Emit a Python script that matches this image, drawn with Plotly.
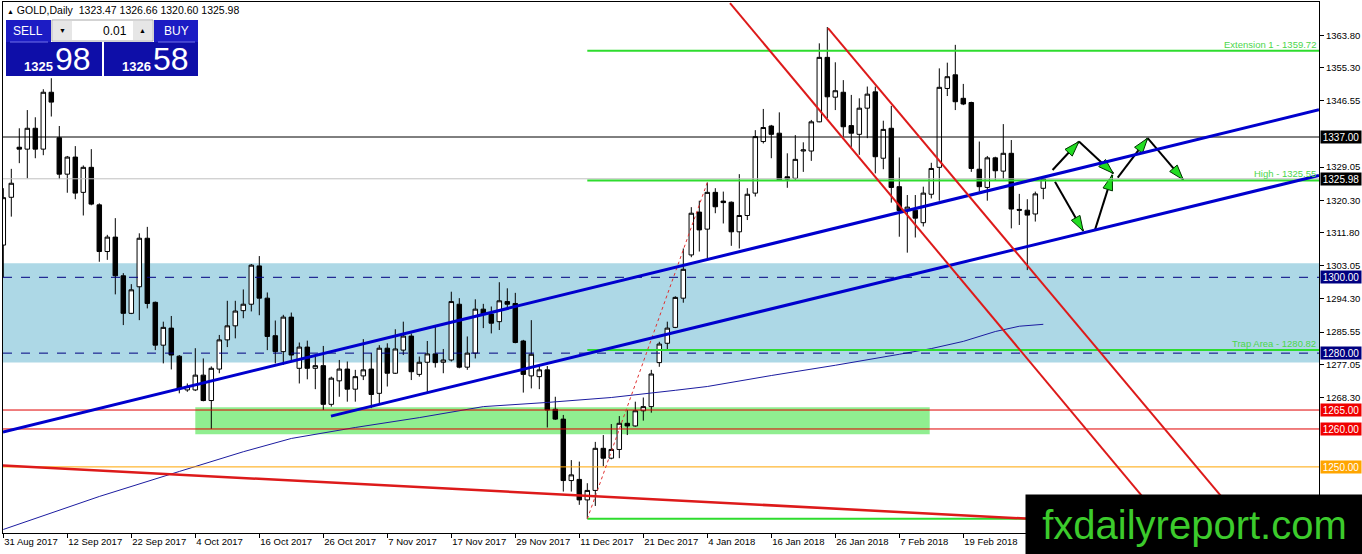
import math
import plotly.graph_objects as go

# ---------------- data ----------------
opens = [1308.5, 1321.1, 1334.3, 1333.8, 1339.3, 1333.8, 1348.8, 1336.8, 1327.2, 1331.7,
         1322.4, 1329.0, 1319.1, 1306.8, 1310.6, 1300.4, 1290.5, 1297.5, 1310.3, 1293.4,
         1282.1, 1286.6, 1279.2, 1270.3, 1270.3, 1274.2, 1267.5, 1275.8, 1283.5, 1287.2,
         1291.2, 1292.9, 1303.0, 1294.5, 1284.6, 1280.4, 1289.5, 1276.0, 1281.6, 1276.0,
         1276.7, 1266.5, 1272.7, 1275.8, 1270.5, 1274.0, 1275.8, 1269.4, 1281.3, 1274.7,
         1280.8, 1284.5, 1274.4, 1277.6, 1279.8, 1277.6, 1278.2, 1292.9, 1276.3, 1280.0,
         1291.6, 1290.3, 1288.3, 1293.6, 1293.1, 1283.2, 1274.0, 1273.8, 1275.6, 1265.2,
         1262.6, 1246.4, 1246.7, 1241.3, 1243.8, 1254.9, 1252.3, 1254.6, 1261.5, 1260.8,
         1264.8, 1265.9, 1277.5, 1282.6, 1286.8, 1294.5, 1305.9, 1317.2, 1312.7, 1322.4,
         1320.1, 1319.8, 1312.0, 1316.3, 1322.2, 1335.8, 1339.9, 1338.0, 1326.5, 1326.1,
         1333.3, 1333.3, 1341.0, 1358.0, 1347.5, 1348.8, 1340.0, 1337.7, 1344.6, 1348.9,
         1331.4, 1339.3, 1323.9, 1317.6, 1317.7, 1314.4, 1321.9, 1329.0, 1349.8, 1353.4,
         1347.2, 1346.1, 1328.5, 1323.7, 1331.5, 1328.0, 1332.7, 1317.9, 1317.7, 1316.7,
         1323.47]
highs = [1323.5, 1328.6, 1339.3, 1344.1, 1342.2, 1349.6, 1352.5, 1339.9, 1332.0, 1334.6,
         1329.5, 1333.8, 1319.5, 1311.2, 1315.6, 1301.1, 1298.2, 1311.6, 1313.3, 1293.6,
         1288.3, 1289.8, 1279.5, 1272.0, 1281.3, 1278.6, 1276.5, 1284.8, 1293.8, 1293.8,
         1296.8, 1303.5, 1305.6, 1296.0, 1288.6, 1290.1, 1290.7, 1282.8, 1283.3, 1279.1,
         1281.9, 1273.8, 1278.2, 1277.8, 1275.6, 1283.7, 1280.0, 1282.1, 1282.6, 1286.3,
         1288.3, 1285.2, 1279.1, 1283.2, 1287.4, 1281.1, 1296.2, 1294.5, 1284.4, 1294.2,
         1293.0, 1292.3, 1298.7, 1297.1, 1295.9, 1283.5, 1288.7, 1276.9, 1276.6, 1268.5,
         1263.7, 1251.8, 1251.4, 1245.7, 1256.6, 1258.4, 1261.3, 1263.4, 1265.0, 1267.2,
         1268.3, 1275.6, 1283.0, 1288.3, 1295.0, 1307.6, 1318.5, 1320.2, 1325.0, 1323.5,
         1322.6, 1320.0, 1327.2, 1323.5, 1338.8, 1344.4, 1340.2, 1343.5, 1332.7, 1337.5,
         1335.6, 1341.5, 1361.7, 1366.0, 1356.7, 1352.0, 1348.1, 1347.2, 1350.3, 1350.3,
         1341.3, 1345.2, 1331.6, 1321.7, 1321.7, 1323.9, 1330.2, 1355.1, 1356.6, 1361.3,
         1351.0, 1346.3, 1335.8, 1332.0, 1331.8, 1340.4, 1336.2, 1322.0, 1320.6, 1322.6,
         1326.66]
lows = [1300.0, 1316.0, 1330.1, 1326.1, 1331.4, 1332.2, 1342.4, 1325.9, 1322.3, 1320.6,
        1316.3, 1319.0, 1304.1, 1304.6, 1295.5, 1287.4, 1290.3, 1288.7, 1291.8, 1280.8,
        1277.3, 1275.7, 1269.4, 1269.8, 1270.0, 1267.3, 1260.0, 1274.7, 1281.6, 1283.9,
        1289.2, 1291.0, 1290.0, 1280.8, 1277.3, 1276.9, 1278.2, 1272.0, 1273.1, 1270.5,
        1265.0, 1265.9, 1268.5, 1267.2, 1267.2, 1272.9, 1265.5, 1266.8, 1271.2, 1274.5,
        1279.5, 1272.9, 1273.8, 1269.4, 1276.2, 1274.7, 1277.8, 1276.0, 1275.6, 1278.6,
        1286.6, 1285.2, 1286.1, 1291.6, 1282.6, 1269.6, 1270.7, 1270.5, 1260.4, 1262.4,
        1243.5, 1243.5, 1240.0, 1236.3, 1239.7, 1250.2, 1252.0, 1252.3, 1258.4, 1260.6,
        1262.2, 1264.3, 1276.4, 1281.0, 1286.6, 1293.3, 1305.3, 1306.8, 1305.0, 1316.9,
        1314.2, 1308.3, 1307.6, 1315.1, 1321.3, 1335.3, 1331.4, 1325.5, 1323.6, 1325.7,
        1327.8, 1330.7, 1340.9, 1341.9, 1344.1, 1337.1, 1334.4, 1332.3, 1336.7, 1327.4,
        1328.5, 1319.7, 1310.7, 1306.5, 1310.5, 1313.4, 1320.8, 1320.2, 1347.8, 1344.1,
        1345.4, 1327.8, 1322.6, 1320.2, 1325.7, 1325.9, 1312.9, 1313.8, 1301.9, 1314.7,
        1320.60]
closes = [1321.0, 1324.8, 1333.8, 1339.3, 1333.8, 1348.8, 1346.2, 1327.2, 1331.7, 1322.2,
          1329.0, 1319.3, 1306.8, 1310.6, 1300.4, 1290.5, 1296.7, 1310.3, 1293.1, 1282.1,
          1286.8, 1279.5, 1270.7, 1271.2, 1274.2, 1267.5, 1276.0, 1283.5, 1287.2, 1291.1,
          1292.9, 1303.2, 1294.5, 1284.4, 1280.4, 1289.5, 1279.5, 1281.6, 1276.0, 1276.7,
          1266.5, 1273.4, 1275.8, 1270.5, 1273.8, 1275.6, 1269.1, 1281.3, 1274.7, 1281.1,
          1284.5, 1275.1, 1277.6, 1279.8, 1277.5, 1278.2, 1293.6, 1276.3, 1280.0, 1291.6,
          1290.3, 1287.9, 1293.8, 1292.9, 1282.8, 1274.4, 1279.7, 1275.6, 1265.0, 1262.6,
          1246.4, 1247.9, 1241.3, 1243.8, 1254.9, 1252.3, 1254.6, 1261.5, 1260.8, 1264.8,
          1265.9, 1274.5, 1282.4, 1286.6, 1294.7, 1302.1, 1316.9, 1312.5, 1322.4, 1318.6,
          1319.7, 1312.0, 1316.3, 1321.9, 1337.1, 1339.5, 1337.7, 1325.7, 1325.9, 1331.1,
          1333.6, 1341.0, 1358.0, 1347.6, 1349.2, 1339.7, 1338.0, 1344.6, 1348.3, 1331.8,
          1339.0, 1323.7, 1317.6, 1318.5, 1315.6, 1322.2, 1328.7, 1350.1, 1352.9, 1346.3,
          1345.7, 1328.7, 1323.9, 1331.5, 1328.1, 1332.7, 1318.0, 1317.7, 1316.4, 1322.0,
          1325.98]
bar_index = list(range(len(opens)))

date_tick_index = [0, 8, 16, 24, 32, 40, 48, 56, 64, 72, 80, 88, 96, 104, 112, 120]
date_tick_labels = ["31 Aug 2017", "12 Sep 2017", "22 Sep 2017", "4 Oct 2017", "16 Oct 2017",
                    "26 Oct 2017", "7 Nov 2017", "17 Nov 2017", "29 Nov 2017", "11 Dec 2017",
                    "21 Dec 2017", "4 Jan 2018", "16 Jan 2018", "26 Jan 2018", "7 Feb 2018",
                    "19 Feb 2018"]
price_ticks = [1363.80, 1355.30, 1346.55, 1329.05, 1320.30, 1311.80, 1303.05,
               1294.30, 1285.55, 1277.05, 1268.30]

# moving average (bar index, value)
ma_index = [0, 12, 22, 30, 36, 44, 52, 60, 68, 76, 84, 88, 96, 104, 112, 116, 120, 124, 127, 130]
ma_value = [1233.5, 1242.2, 1248.8, 1254.0, 1257.5, 1260.4, 1263.0, 1265.9, 1267.0, 1268.3,
            1270.2, 1271.2, 1274.1, 1276.8, 1279.7, 1281.2, 1283.1, 1285.7, 1287.1, 1287.6]

# fibonacci-style levels drawn from the December low
fib_start = 73
fib_levels = [1359.72, 1325.55, 1280.82, 1236.30]
fib_texts = ["Extension 1 - 1359.72", "High - 1325.55", "Trap Area - 1280.82", ""]
fib_swing = [(73, 1236.3), (88, 1325.0)]

# horizontal levels
level_black = 1337.00
level_bid = 1325.98
level_dashed = [1300.00, 1280.00]
level_red = [1265.00, 1260.00]
level_orange = 1250.00

blue_zone = (1277.5, 1303.7)
green_zone = (24.0, 115.8, 1258.6, 1265.7)

# trend lines (bar index, price)
upper_trend = [(-0.04, 1259.2), (164.46, 1344.2)]
lower_trend = [(40.96, 1263.4), (164.46, 1326.86)]
red_left = [(90.84, 1372.3), (142.71, 1241.4)]
red_right = [(103.09, 1365.7), (153.09, 1240.1)]
red_bottom = [(-0.04, 1250.35), (135.0, 1235.6)]

# projected path arrows (start -> end)
proj_arrows = [((131.16, 1328.3), (134.46, 1335.8)),
               ((134.46, 1335.8), (138.75, 1327.4)),
               ((139.30, 1326.3), (143.05, 1336.7)),
               ((143.05, 1336.7), (147.50, 1325.7)),
               ((131.46, 1325.2), (134.99, 1312.2)),
               ((136.46, 1312.5), (138.63, 1327.0))]

header_text = "GOLD,Daily  1323.47 1326.66 1320.60 1325.98"
sell_price = ("1325", "98")
buy_price = ("1326", "58")
lot_size = "0.01"

# ---------------- layout geometry ----------------
W, H = 1362, 554
ML, MR, MT, MB = 3, 43, 2, 21
PW, PH = W - ML - MR, H - MT - MB
XR = [-0.0375, 164.4625]
YR = [1232.57, 1372.60]
FONT = "Liberation Sans"


def px(x):
    return (x - ML) / PW


def py(y):
    return (H - MB - y) / PH


fig = go.Figure()

fig.add_trace(go.Candlestick(
    x=bar_index, open=opens, high=highs, low=lows, close=closes,
    increasing=dict(line=dict(color="black", width=1), fillcolor="white"),
    decreasing=dict(line=dict(color="black", width=1), fillcolor="black"),
    whiskerwidth=0, hoverinfo="skip", showlegend=False))

fig.add_trace(go.Scatter(x=ma_index, y=ma_value, mode="lines",
                         line=dict(color="#1C1CA0", width=1), hoverinfo="skip",
                         showlegend=False))

shapes = []
# zones (background)
shapes.append(dict(type="rect", xref="paper", yref="y", x0=0, x1=1,
                   y0=blue_zone[0], y1=blue_zone[1], fillcolor="#ADD8E6",
                   line=dict(width=0), layer="below"))
shapes.append(dict(type="rect", xref="x", yref="y", x0=green_zone[0], x1=green_zone[1],
                   y0=green_zone[2], y1=green_zone[3], fillcolor="#90EE90",
                   line=dict(width=0), layer="below"))


def hline(y, color, width=1, dash="solid", x0=None):
    if x0 is None:
        shapes.append(dict(type="line", xref="paper", yref="y", x0=0, x1=1, y0=y, y1=y,
                           line=dict(color=color, width=width, dash=dash), layer="above"))
    else:
        shapes.append(dict(type="line", xref="x", yref="y", x0=x0, x1=XR[1], y0=y, y1=y,
                           line=dict(color=color, width=width, dash=dash), layer="above"))


hline(level_bid, "#C0C0C0")
hline(level_black, "black")
for lv in level_dashed:
    hline(lv, "#000080", 1, "dash")
for lv in level_red:
    hline(lv, "#E00000")
hline(level_orange, "#FFA500")
for lv in fib_levels:
    hline(lv, "#2EDC2E", 2, "solid", x0=fib_start)


def seg(pts, color, width, dash="solid"):
    shapes.append(dict(type="line", xref="x", yref="y", x0=pts[0][0], y0=pts[0][1],
                       x1=pts[1][0], y1=pts[1][1],
                       line=dict(color=color, width=width, dash=dash), layer="above"))


seg(fib_swing, "#E03030", 1, "dot")
seg(upper_trend, "#0000CD", 3)
seg(lower_trend, "#0000CD", 3)
seg(red_left, "#DD1A1A", 2)
seg(red_right, "#DD1A1A", 2)
seg(red_bottom, "#DD1A1A", 2.5)

# projection arrows
sx = PW / (XR[1] - XR[0])
sy = PH / (YR[1] - YR[0])
for (a, b) in proj_arrows:
    fig.add_trace(go.Scatter(x=[a[0], b[0]], y=[a[1], b[1]], mode="lines",
                             line=dict(color="black", width=2), hoverinfo="skip",
                             showlegend=False))
for (a, b) in proj_arrows:
    dx = (b[0] - a[0]) * sx
    dy = -(b[1] - a[1]) * sy
    ang = math.degrees(math.atan2(dx, -dy))
    fig.add_trace(go.Scatter(x=[b[0]], y=[b[1]], mode="markers",
                             marker=dict(symbol="arrow", size=16, angle=ang, color="#22DD22",
                                         line=dict(color="#003300", width=1)),
                             hoverinfo="skip", showlegend=False))

annotations = []
# fib texts
for lv, txt in zip(fib_levels, fib_texts):
    if txt:
        annotations.append(dict(x=1, xref="paper", y=lv, yref="y", text=txt,
                                xanchor="right", yanchor="bottom", showarrow=False,
                                font=dict(family=FONT, size=9.5, color="#4CD64C"),
                                xshift=-1, yshift=-1))

# axis price boxes
boxes = [(level_black, "black", "white"), (level_bid, "black", "white"),
         (level_dashed[0], "#000080", "white"), (level_dashed[1], "#000080", "white"),
         (level_red[0], "#F00000", "white"), (level_red[1], "#F00000", "white"),
         (level_orange, "#FFA500", "white")]
for val, bg, fg in boxes:
    annotations.append(dict(x=px(1320), xref="paper", y=val, yref="y",
                            text="%.2f" % val, xanchor="left", yanchor="middle",
                            showarrow=False, bgcolor=bg, width=40, height=12,
                            borderpad=0, align="center",
                            font=dict(family=FONT, size=10, color=fg)))

# header text
annotations.append(dict(x=px(5), xref="paper", y=py(10), yref="paper",
                        text="<span style='font-size:7px'>▲</span> " + header_text,
                        xanchor="left", yanchor="middle", showarrow=False,
                        font=dict(family=FONT, size=10.5, color="black")))

# trading panel
panel_blue = "#1C1CC4"
panel_dark = "#0E0EA8"
shapes += [
    dict(type="rect", xref="paper", yref="paper", x0=px(6), x1=px(51), y0=py(42), y1=py(20),
         fillcolor=panel_blue, line=dict(width=0), layer="above"),
    dict(type="rect", xref="paper", yref="paper", x0=px(154), x1=px(198), y0=py(42), y1=py(20),
         fillcolor=panel_blue, line=dict(width=0), layer="above"),
    dict(type="rect", xref="paper", yref="paper", x0=px(52), x1=px(153), y0=py(41), y1=py(20),
         fillcolor="white", line=dict(color="#A8A8A8", width=1), layer="above"),
    dict(type="rect", xref="paper", yref="paper", x0=px(53), x1=px(72), y0=py(40), y1=py(21),
         fillcolor="#E6E6E6", line=dict(width=0), layer="above"),
    dict(type="rect", xref="paper", yref="paper", x0=px(133), x1=px(152), y0=py(40), y1=py(21),
         fillcolor="#E6E6E6", line=dict(width=0), layer="above"),
    dict(type="rect", xref="paper", yref="paper", x0=px(6), x1=px(102), y0=py(76), y1=py(42),
         fillcolor=panel_dark, line=dict(width=0), layer="above"),
    dict(type="rect", xref="paper", yref="paper", x0=px(104), x1=px(198), y0=py(76), y1=py(42),
         fillcolor=panel_dark, line=dict(width=0), layer="above"),
    dict(type="line", xref="paper", yref="paper", x0=px(10), x1=px(48), y0=py(42), y1=py(42),
         line=dict(color="#7070E8", width=1), layer="above"),
    dict(type="line", xref="paper", yref="paper", x0=px(158), x1=px(195), y0=py(42), y1=py(42),
         line=dict(color="#7070E8", width=1), layer="above"),
]


def ptext(x, y, txt, size, color, anchor="center", bold=False):
    t = "<b>%s</b>" % txt if bold else txt
    annotations.append(dict(x=px(x), xref="paper", y=py(y), yref="paper", text=t,
                            xanchor=anchor, yanchor="middle", showarrow=False,
                            font=dict(family=FONT, size=size, color=color)))


ptext(28, 31, "SELL", 12, "white")
ptext(176, 31, "BUY", 12, "white")
ptext(62.5, 30.5, "▼", 7, "black")
ptext(142.5, 30.5, "▲", 7, "black")
ptext(129, 31, lot_size, 12, "black", anchor="right")
ptext(22, 66, sell_price[0], 13, "white", anchor="left", bold=True)
ptext(53, 59, sell_price[1], 32, "white", anchor="left")
ptext(120, 66, buy_price[0], 13, "white", anchor="left", bold=True)
ptext(151, 59, buy_price[1], 32, "white", anchor="left")

# watermark box
annotations.append(dict(x=px(1025), xref="paper", y=py(494), yref="paper",
                        xanchor="left", yanchor="top", showarrow=False,
                        text="fxdailyreport.com", bgcolor="black", width=337, height=60,
                        borderpad=0, align="center", valign="middle",
                        font=dict(family=FONT, size=40, color="#3CCB2C")))

fig.update_layout(
    width=W, height=H, margin=dict(l=ML, r=MR, t=MT, b=MB),
    paper_bgcolor="white", plot_bgcolor="white",
    showlegend=False, hovermode=False,
    boxgap=0.2, boxgroupgap=0.3,
    shapes=shapes, annotations=annotations,
    xaxis=dict(range=XR, tickmode="array", tickvals=date_tick_index,
               ticktext=date_tick_labels, ticks="outside", ticklen=4,
               tickcolor="black", ticklabelposition="outside right",
               showgrid=False, zeroline=False, showline=True, linecolor="black",
               linewidth=1, mirror=True, rangeslider=dict(visible=False),
               tickfont=dict(family=FONT, size=9.5, color="black")),
    yaxis=dict(range=YR, side="right", tickmode="array", tickvals=price_ticks,
               ticktext=["%.2f" % v for v in price_ticks], ticks="outside", ticklen=4,
               tickcolor="black", showgrid=False, zeroline=False, showline=True,
               linecolor="black", linewidth=1, mirror=True,
               tickfont=dict(family=FONT, size=9.5, color="black")),
)

fig.write_html("out.html", config={"displayModeBar": False},
               post_script="document.body.style.margin='0';document.body.style.overflow='hidden';")
